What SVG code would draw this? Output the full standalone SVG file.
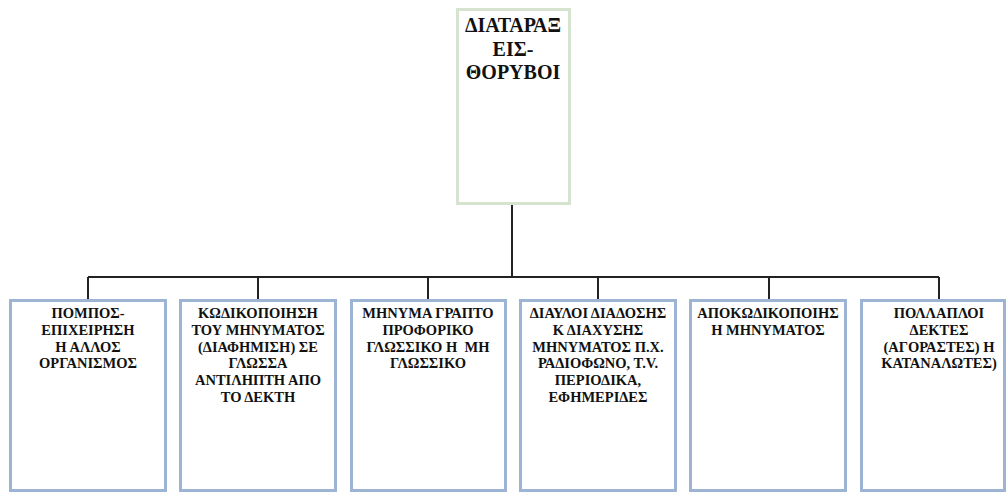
<svg xmlns="http://www.w3.org/2000/svg" width="1007" height="493" viewBox="0 0 1007 493">
<style>
.top{fill:#fff;stroke:#d5e3cf;stroke-width:3}
.box{fill:#fff;stroke:#9db4d4;stroke-width:3}
.t{font-family:"Liberation Serif","Times New Roman",serif;font-weight:bold;fill:#111;text-anchor:middle}
.s{font-size:14.5px}
.b{font-size:20px}
.c{stroke:#222;fill:none;stroke-width:2}
</style>
<rect width="1007" height="493" fill="#fff"/>
<g id="connectors">
<line class="c" x1="512" y1="204" x2="512" y2="277" stroke-width="2.5"/>
<line class="c" x1="88" y1="277" x2="939" y2="277"/>
<line class="c" x1="88" y1="277" x2="88" y2="299" stroke="#444"/>
<line class="c" x1="258" y1="277" x2="258" y2="299" stroke="#444"/>
<line class="c" x1="428" y1="277" x2="428" y2="299" stroke="#444"/>
<line class="c" x1="598" y1="277" x2="598" y2="299" stroke="#444"/>
<line class="c" x1="769" y1="277" x2="769" y2="299" stroke="#444"/>
<line class="c" x1="939" y1="277" x2="939" y2="299" stroke="#444"/>
</g>
<g id="n0">
<rect class="top" x="457.5" y="9.5" width="112" height="194"/>
<text class="t b" x="513" y="32">ΔΙΑΤΑΡΑΞ</text>
<text class="t b" x="513" y="56">ΕΙΣ-</text>
<text class="t b" x="513" y="79">ΘΟΡΥΒΟΙ</text>
</g>
<g id="n1">
<rect class="box" x="10.5" y="300.5" width="155" height="190"/>
<text class="t s" x="88" y="318">ΠΟΜΠΟΣ-</text>
<text class="t s" x="88" y="335">ΕΠΙΧΕΙΡΗΣΗ</text>
<text class="t s" x="88" y="352">Η ΑΛΛΟΣ</text>
<text class="t s" x="88" y="368">ΟΡΓΑΝΙΣΜΟΣ</text>
</g>
<g id="n2">
<rect class="box" x="180.5" y="300.5" width="155" height="190"/>
<text class="t s" x="258" y="318">ΚΩΔΙΚΟΠΟΙΗΣΗ</text>
<text class="t s" x="258" y="335">ΤΟΥ ΜΗΝΥΜΑΤΟΣ</text>
<text class="t s" x="258" y="352">(ΔΙΑΦΗΜΙΣΗ) ΣΕ</text>
<text class="t s" x="258" y="368">ΓΛΩΣΣΑ</text>
<text class="t s" x="258" y="385">ΑΝΤΙΛΗΠΤΗ ΑΠΟ</text>
<text class="t s" x="258" y="402">ΤΟ ΔΕΚΤΗ</text>
</g>
<g id="n3">
<rect class="box" x="351.5" y="300.5" width="154" height="190"/>
<text class="t s" x="428" y="318">ΜΗΝΥΜΑ ΓΡΑΠΤΟ</text>
<text class="t s" x="428" y="335">ΠΡΟΦΟΡΙΚΟ</text>
<text class="t s" x="428" y="352" xml:space="preserve">ΓΛΩΣΣΙΚΟ Η  ΜΗ</text>
<text class="t s" x="428" y="368">ΓΛΩΣΣΙΚΟ</text>
</g>
<g id="n4">
<rect class="box" x="520.5" y="300.5" width="155" height="190"/>
<text class="t s" x="598" y="318">ΔΙΑΥΛΟΙ ΔΙΑΔΟΣΗΣ</text>
<text class="t s" x="598" y="335">Κ ΔΙΑΧΥΣΗΣ</text>
<text class="t s" x="598" y="352">ΜΗΝΥΜΑΤΟΣ Π.Χ.</text>
<text class="t s" x="598" y="368">ΡΑΔΙΟΦΩΝΟ, Τ.V.</text>
<text class="t s" x="598" y="385">ΠΕΡΙΟΔΙΚΑ,</text>
<text class="t s" x="598" y="402">ΕΦΗΜΕΡΙΔΕΣ</text>
</g>
<g id="n5">
<rect class="box" x="690.5" y="300.5" width="155" height="190"/>
<text class="t s" x="768" y="318">ΑΠΟΚΩΔΙΚΟΠΟΙΗΣ</text>
<text class="t s" x="768" y="335">Η ΜΗΝΥΜΑΤΟΣ</text>
</g>
<g id="n6">
<rect class="box" x="861.5" y="300.5" width="143" height="190"/>
<text class="t s" x="939" y="318">ΠΟΛΛΑΠΛΟΙ</text>
<text class="t s" x="939" y="335">ΔΕΚΤΕΣ</text>
<text class="t s" x="939" y="352">(ΑΓΟΡΑΣΤΕΣ) Η</text>
<text class="t s" x="939" y="368">ΚΑΤΑΝΑΛΩΤΕΣ)</text>
</g>
</svg>
